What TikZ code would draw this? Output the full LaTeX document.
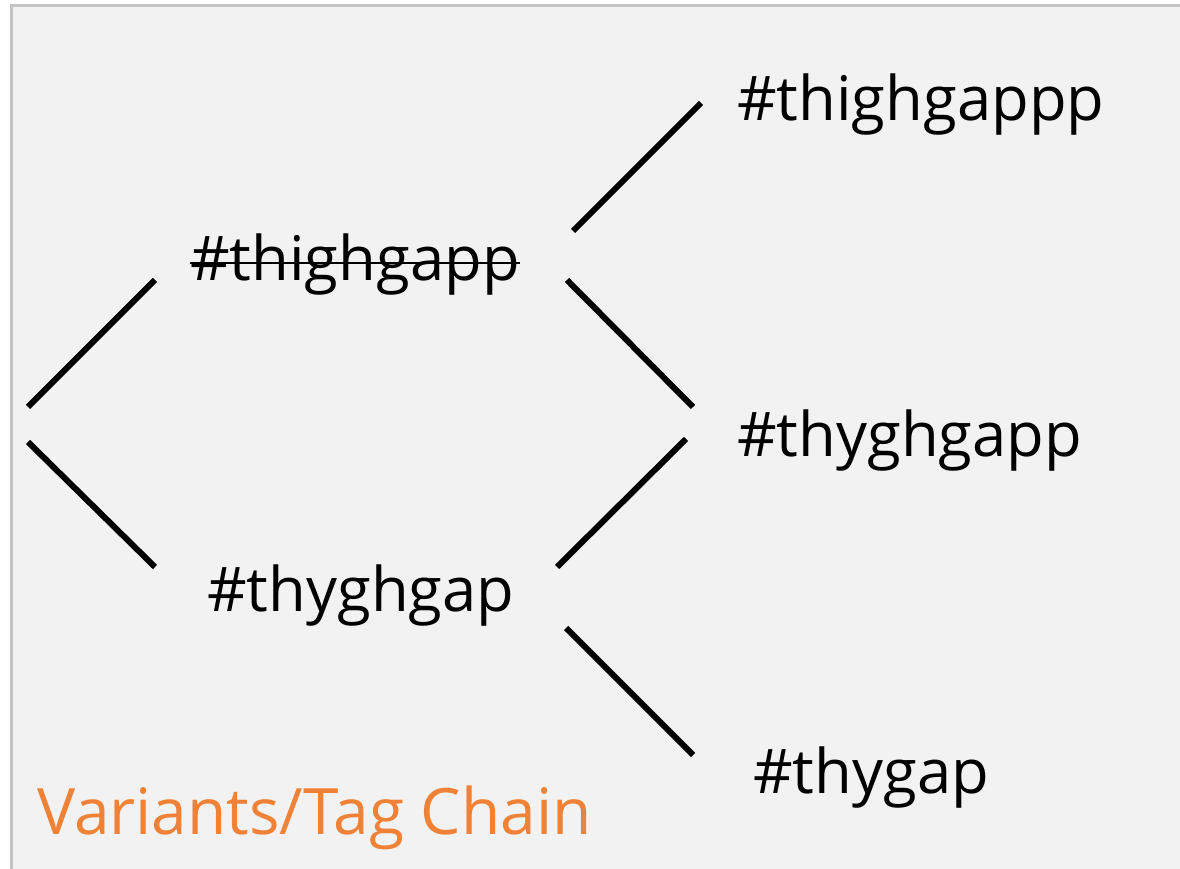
\documentclass[tikz,border=0pt]{standalone}
\usepackage{fontspec}
\setmainfont{Open Sans}
\definecolor{slidebg}{HTML}{F2F2F2}
\definecolor{slideframe}{HTML}{C4C4C4}
\definecolor{chainorange}{RGB}{240,130,55}
\tikzset{
  tag/.style={anchor=base west, inner sep=0pt, font=\fontsize{61.5}{61.5}\selectfont},
  branch/.style={line width=6pt, line cap=butt},
  strike/.style={line width=2pt},
}
\begin{document}
\begin{tikzpicture}[x=1pt, y=1pt]
		\useasboundingbox (0,0) rectangle (1180,869);
		\fill[white] (0,0) rectangle (1180,869);
		\fill[slidebg] (11,0) rectangle (1180,863);
		\draw[slideframe, line width=3pt] (11,0) -- (11,863) -- (1180,863);
		% tags
		\node[tag] (thighgapp) at (190,588) {\#thighgapp};
		\node[tag] (thyghgap) at (207,257) {\#thyghgap};
		\node[tag] (thighgappp) at (737,748) {\#thighgappp};
		\node[tag] (thyghgapp) at (737,412) {\#thyghgapp};
		\node[tag] (thygap) at (753,75) {\#thygap};
		\node[anchor=base west, inner sep=0pt, text=chainorange, font=\fontsize{64}{64}\selectfont] (chain) at (37,34) {Variants/Tag Chain};
		\draw[strike] ([yshift=18pt]thighgapp.base west) -- ([yshift=18pt]thighgapp.base east);
		% stroke ends
		\coordinate (root-up) at (28,462);
		\coordinate (root-dn) at (28,427);
		\coordinate (thighgapp-in) at (155,589);
		\coordinate (thyghgap-in) at (155,302);
		\coordinate (thighgapp-up) at (573,638);
		\coordinate (thighgapp-dn) at (567,589);
		\coordinate (thyghgap-up) at (557,302);
		\coordinate (thyghgap-dn) at (566,241);
		\coordinate (thighgappp-in) at (701,766);
		\coordinate (thyghgapp-in-up) at (693,462);
		\coordinate (thyghgapp-in-dn) at (686,430);
		\coordinate (thygap-in) at (693,114);
		% branches
		\draw[branch] (root-up) -- (thighgapp-in);
		\draw[branch] (root-dn) -- (thyghgap-in);
		\draw[branch] (thighgapp-up) -- (thighgappp-in);
		\draw[branch] (thighgapp-dn) -- (thyghgapp-in-up);
		\draw[branch] (thyghgap-up) -- (thyghgapp-in-dn);
		\draw[branch] (thyghgap-dn) -- (thygap-in);
	\end{tikzpicture}
\end{document}
